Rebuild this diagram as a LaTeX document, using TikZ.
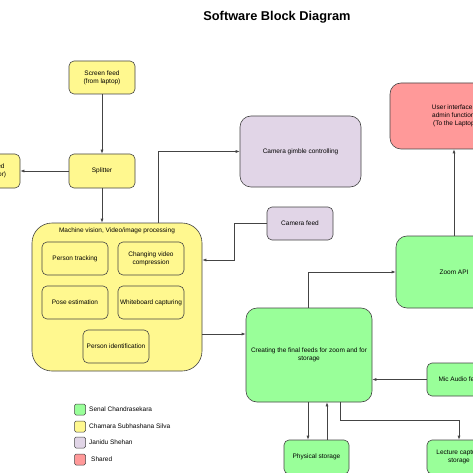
\documentclass[tikz,border=0pt]{standalone}
\usepackage{fontspec}
\setmainfont{Liberation Sans}
\usetikzlibrary{arrows.meta,calc}
\definecolor{yel}{HTML}{FFF88F}
\definecolor{grn}{HTML}{99FF99}
\definecolor{pur}{HTML}{E1D5E7}
\definecolor{rd}{HTML}{FF9999}
\definecolor{edge}{HTML}{444444}
\tikzset{
  blk/.style={draw=edge, line width=0.6pt, rounded corners=5pt, inner sep=1pt, align=center, font=\fontsize{6.5}{7.8}\selectfont},
  ybox/.style={blk, fill=yel},
  gbox/.style={blk, fill=grn, rounded corners=11pt},
  pbox/.style={blk, fill=pur},
  rbox/.style={blk, fill=rd, rounded corners=11pt},
  arr/.style={draw=edge, line width=0.6pt, -{Latex[length=4pt,width=3pt]}},
  lgsq/.style={draw=edge, line width=0.5pt, rounded corners=1.5pt, minimum width=11pt, minimum height=11pt, inner sep=0pt},
  lgtx/.style={anchor=west, inner sep=0pt, font=\fontsize{6.5}{7.8}\selectfont},
}
\begin{document}
\begin{tikzpicture}[x=1pt,y=-1pt]
\useasboundingbox (0,0) rectangle (473,473);
\clip (0,0) rectangle (473,473);
\fill[white] (0,0) rectangle (473,473);
% title
\node[font=\bfseries\fontsize{12.8}{15}\selectfont] (title) at (277,17) {Software Block Diagram};
% yellow
\node[ybox, minimum width=66pt, minimum height=33pt] (screen) at (102,77.5) {Screen feed\\(from laptop)};
\node[ybox, minimum width=66pt, minimum height=34pt] (split) at (102,171) {Splitter};
\node[ybox, minimum width=66pt, minimum height=34pt] (proj) at (-13,171) {Screen feed\\(To projector)};
\node[ybox, rounded corners=20pt, minimum width=170pt, minimum height=148pt] (mv) at (117,297) {};
\node[font=\fontsize{6.5}{7.8}\selectfont, inner sep=0pt] (mvt) at (117,231) {Machine vision, Video/image processing};
\node[ybox, minimum width=66pt, minimum height=33pt] (pt) at (75,258.5) {Person tracking};
\node[ybox, minimum width=66pt, minimum height=33pt] (cvc) at (151,258.5) {Changing video\\compression};
\node[ybox, minimum width=66pt, minimum height=33pt] (pe) at (75,302.5) {Pose estimation};
\node[ybox, minimum width=66pt, minimum height=33pt] (wc) at (151,302.5) {Whiteboard capturing};
\node[ybox, minimum width=66pt, minimum height=33pt] (pid) at (116,346.5) {Person identification};
% purple
\node[pbox, rounded corners=11pt, minimum width=121pt, minimum height=71pt] (cg) at (300.5,151.5) {Camera gimble controlling};
\node[pbox, minimum width=66pt, minimum height=33pt] (cf) at (300,223.5) {Camera feed};
% green
\node[gbox, minimum width=126pt, minimum height=94pt] (ff) at (309,355) {Creating the final feeds for zoom and for\\storage};
\node[gbox, minimum width=116pt, minimum height=72pt] (zoom) at (454,272) {Zoom API};
\node[gbox, rounded corners=5pt, minimum width=66pt, minimum height=33pt] (mic) at (460,379.5) {Mic Audio feed};
\node[gbox, rounded corners=5pt, minimum width=65pt, minimum height=34pt] (phys) at (316.5,457) {Physical storage};
\node[gbox, rounded corners=5pt, minimum width=64pt, minimum height=34pt] (lect) at (459,457) {Lecture capture\\storage};
% red
\node[rbox, minimum width=130pt, minimum height=66pt] (ui) at (455,116) {User interface +\\admin functions\\(To the Laptop)};
% helper coordinates
\coordinate (c158) at (158,0);
\coordinate (b1) at (234,260);
\coordinate (b2) at (0,334);
\coordinate (c308) at (308,0);
\coordinate (c327) at (327,0);
\coordinate (c340) at (340,0);
\coordinate (b3) at (459,420);
\coordinate (c454) at (454,0);
% connectors
\draw[arr] (screen) -- (split);
\draw[arr] (split) -- (proj);
\draw[arr] (split.south) -- (split.south |- mv.north);
\draw[arr] (mv.north -| c158) |- (cg.west);
\draw[arr] (cf.west) -| (b1) -- (b1 -| mv.east);
\draw[arr] (mv.east |- b2) -- (ff.west |- b2);
\draw[arr] (ff.north -| c308) |- (zoom.west);
\draw[arr] (zoom.north -| c454) -- (ui.south -| c454);
\draw[arr] (mic.west) -- (ff.east |- mic.west);
\draw[arr] (ff.south -| c308) -- (phys.north -| c308);
\draw[arr] (phys.north -| c327) -- (ff.south -| c327);
\draw[arr] (ff.south -| c340) |- (b3) -- (lect.north);
% legend
\node[lgsq, fill=grn] (l1) at (80,409.5) {};
\node[lgsq, fill=yel] (l2) at (80,426.5) {};
\node[lgsq, fill=pur] (l3) at (80,442.5) {};
\node[lgsq, fill=rd] (l4) at (80,459.5) {};
\node[lgtx] (t1) at (89,409.5) {Senal Chandrasekara};
\node[lgtx] (t2) at (89,426.5) {Chamara Subhashana Silva};
\node[lgtx] (t3) at (89,442.5) {Janidu Shehan};
\node[lgtx] (t4) at (91,459.5) {Shared};
\end{tikzpicture}
\end{document}
